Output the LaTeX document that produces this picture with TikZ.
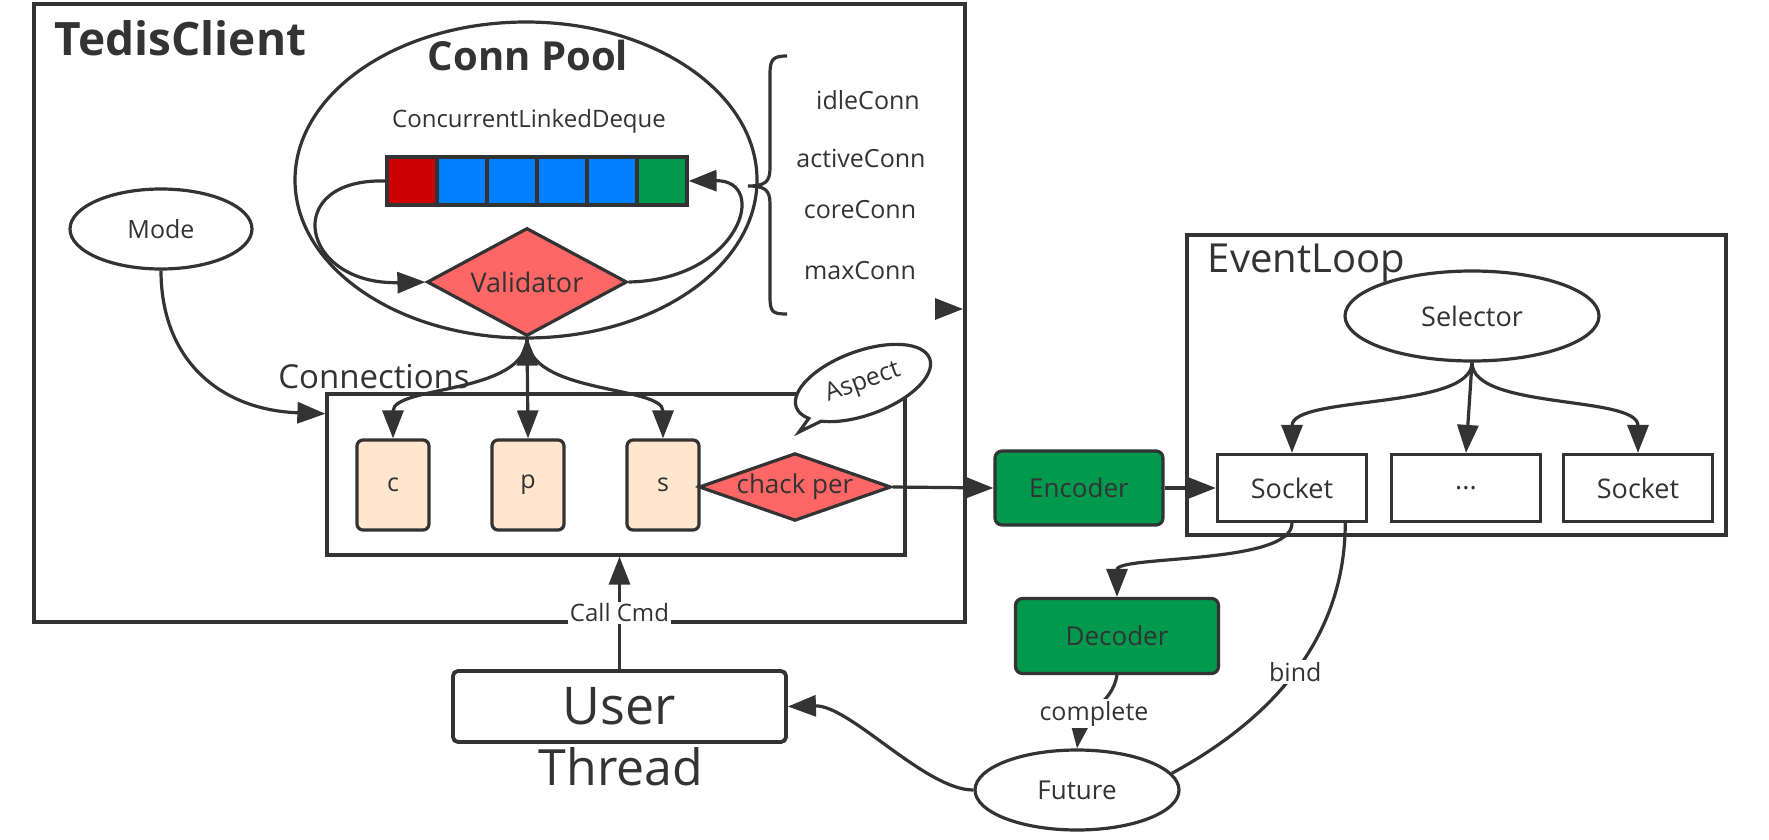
\documentclass[tikz,border=0pt]{standalone}
\usepackage{fontspec}
\setmainfont{Open Sans}
\usetikzlibrary{arrows.meta,shapes.geometric,shapes.callouts,calc}
\definecolor{ln}{HTML}{333333}
\definecolor{qred}{HTML}{CC0000}
\definecolor{qblue}{HTML}{007FFF}
\definecolor{qgreen}{HTML}{00994D}
\definecolor{pinkfill}{HTML}{FF6666}
\definecolor{bisque}{HTML}{FFE6CC}
\newcommand\myfs[1]{\fontsize{#1}{#1}\selectfont}
\begin{document}
\begin{tikzpicture}[x=1pt,y=-1pt,line width=3.2pt,draw=ln,
  every node/.style={text=ln},
  >={Triangle[length=28pt,width=21pt]},
  box/.style={draw=ln,rectangle,inner sep=0pt},
  ell/.style={ellipse,draw=ln,fill=white,inner sep=0pt},
  cell/.style={draw=ln,minimum width=50pt,minimum height=48pt,inner sep=0pt},
  cps/.style={draw=ln,rounded corners=6pt,fill=bisque,minimum width=72pt,minimum height=90pt,inner sep=0pt,font=\myfs{25}},
  gbox/.style={draw=ln,rounded corners=7pt,fill=qgreen,minimum width=168pt,minimum height=74pt,inner sep=0pt,font=\myfs{26}},
  sbox/.style={draw=ln,fill=white,minimum width=149pt,minimum height=67pt,inner sep=0pt,font=\myfs{27}},
  lbl/.style={font=\myfs{25},fill=white,inner sep=2pt},
  txt/.style={font=\myfs{25}}]
\fill[white] (0,0) rectangle (1769,840);
\useasboundingbox (0,0) rectangle (1769,840);

% TedisClient frame
\node[box,line width=3.5pt,minimum width=931pt,minimum height=618pt] (tedis) at (499.5,313) {};
\node[font=\bfseries\myfs{46},anchor=west] (tctitle) at (50,38) {TedisClient};

% Conn pool
\node[ell,minimum width=462pt,minimum height=316pt] (pool) at (526,180) {};
\node[font=\bfseries\myfs{40}] (pooltitle) at (528,56) {Conn Pool};
\node[font=\myfs{24}] (cld) at (529,121) {ConcurrentLinkedDeque};
\foreach \i/\c in {1/qred,2/qblue,3/qblue,4/qblue,5/qblue,6/qgreen}
  \node[cell,fill=\c] (q\i) at ({412+50*(\i-1)},181) {};
\node[diamond,draw=ln,fill=pinkfill,minimum width=200pt,minimum height=108pt,inner sep=0pt,aspect=1.85,font=\myfs{27}] (val) at (527,282) {Validator};
\draw[->] (q1.west) .. controls (280,178) and (300,285) .. (val.west);
\draw[->] (val.east) .. controls (740,280) and (770,180) .. (q6.east);

% brace
\draw (787,56) .. controls (772,56) and (770,60) .. (770,75) -- (770,168)
  .. controls (770,182) and (765,186) .. (748,186)
  .. controls (765,186) and (770,190) .. (770,204) -- (770,296)
  .. controls (770,312) and (772,314) .. (787,314);
\node[txt] (idle) at (868,100) {idleConn};
\node[txt] (active) at (861,158) {activeConn};
\node[txt] (core) at (860,210) {coreConn};
\node[txt] (maxc) at (860,271) {maxConn};
\coordinate (sa0) at (935,309);
\coordinate (sa1) at (963,309);
\draw[->] (sa0) -- (sa1);

% Mode
\node[ell,draw=ln,minimum width=182pt,minimum height=80pt,font=\myfs{25}] (mode) at (161,229) {Mode};

% Connections
\node[box,minimum width=578pt,minimum height=161pt] (conn) at (616,474.5) {};
\node[font=\myfs{33}] (connlbl) at (374,377) {Connections};
\draw[->] (mode.south) .. controls (161,360) and (220,410) .. ($(conn.north west)!0.13!(conn.south west)$);

\node[ellipse callout,draw=ln,fill=white,rotate=20,minimum width=142pt,minimum height=64pt,inner sep=0pt,
  callout absolute pointer={(799,432)},font=\myfs{25}] (aspect) at (863,383) {Aspect};

\node[cps] (c) at (393,485) {c};
\node[cps] (p) at (528,485) {p};
\node[cps] (s) at (663,485) {s};
\draw[->] (val.south) .. controls (527,395) and (393,385) .. (c.north);
\draw[<->] (val.south) -- (p.north);
\draw[->] (val.south) .. controls (527,395) and (663,385) .. (s.north);

\node[diamond,draw=ln,fill=pinkfill,minimum width=192pt,minimum height=67pt,inner sep=0pt,aspect=2.8,font=\myfs{26}] (chk) at (795,487) {chack per};
\draw (s.east) -- (chk.west);

% Encoder and EventLoop
\node[gbox] (enc) at (1079,488) {Encoder};
\draw[->] (chk.east) -- (enc.west);

\node[box,minimum width=539pt,minimum height=300pt] (ev) at (1456.5,385) {};
\node[font=\myfs{40},anchor=west] (evlbl) at (1203,263) {EventLoop};
\node[ell,minimum width=254pt,minimum height=90pt,font=\myfs{27}] (sel) at (1472,316) {Selector};
\node[sbox] (sock1) at (1292,488) {Socket};
\node[sbox] (dots) at (1466,488) {...};
\node[sbox] (sock2) at (1638,488) {Socket};
\draw[->] (enc.east) -- (sock1.west);
\draw[->] (sel.south) .. controls (1472,410) and (1292,395) .. (sock1.north);
\draw[->] (sel.south) -- (dots.north);
\draw[->] (sel.south) .. controls (1472,410) and (1638,395) .. (sock2.north);

% Decoder, Future
\node[gbox,minimum width=203pt,minimum height=75pt] (dec) at (1117,636) {Decoder};
\node[ell,minimum width=204pt,minimum height=80pt,font=\myfs{26}] (fut) at (1077,790) {Future};
\draw[->] (sock1.south) .. controls (1292,565) and (1117,555) .. (dec.north);
\draw[->] (dec.south) .. controls (1112,705) and (1081,715) .. node[lbl,pos=0.55] (complbl) {complete} (fut.north);
\draw ($(sock1.south west)!0.85!(sock1.south east)$) .. controls (1345,640) and (1270,720) .. node[lbl,pos=0.5] (bindlbl) {bind} (fut.10);

% User
\node[draw=ln,rounded corners=5pt,line width=3.8pt,minimum width=333pt,minimum height=71pt,inner sep=0pt,font=\myfs{52}] (user) at (619.5,706.5) {User};
\node[font=\myfs{50}] (thread) at (621,767) {Thread};
\draw[->] (fut.west) .. controls (925,790) and (850,705) .. (user.east);
\draw[->] (user.north) -- node[lbl,pos=0.5,font=\myfs{24}] (calllbl) {Call Cmd} (user.north |- conn.south);
\end{tikzpicture}
\end{document}
